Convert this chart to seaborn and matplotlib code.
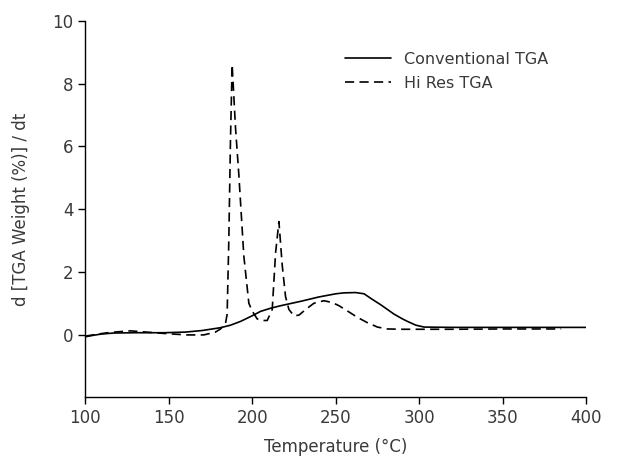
import numpy as np
import pandas as pd
import matplotlib
matplotlib.use("Agg")
import matplotlib.pyplot as plt
import seaborn as sns

# Conventional TGA (solid)
conv_temp = [100, 105, 110, 117, 130, 147, 160, 170, 181, 187, 193, 200, 205, 211,
             217, 229, 240, 250, 255, 262, 267, 272, 277, 285, 290, 293, 298, 303,
             320, 350, 400]
conv_rate = [-0.07, -0.02, 0.02, 0.05, 0.06, 0.06, 0.08, 0.13, 0.22, 0.30, 0.42, 0.60,
             0.74, 0.84, 0.92, 1.06, 1.20, 1.30, 1.33, 1.34, 1.30, 1.12, 0.95, 0.65,
             0.50, 0.42, 0.30, 0.24, 0.23, 0.23, 0.23]

# Hi Res TGA (dashed)
hires_temp = [100, 108, 115, 127, 139, 149, 161, 171, 178, 181, 184, 185, 186, 187,
              188, 189, 190, 192, 195, 198, 200, 203, 206, 209, 212, 214, 216, 218,
              220, 222, 225, 228, 232, 237, 243, 248, 252, 258, 263, 269, 275, 281,
              290, 320, 350, 385]
hires_rate = [-0.05, 0.02, 0.07, 0.12, 0.07, 0.03, -0.01, -0.01, 0.08, 0.18, 0.35, 0.65,
              3.0, 6.2, 8.6, 7.6, 6.6, 5.1, 2.5, 1.0, 0.75, 0.50, 0.45, 0.45, 0.80,
              2.6, 3.6, 2.2, 1.2, 0.80, 0.60, 0.62, 0.80, 1.00, 1.08, 1.02, 0.92,
              0.72, 0.55, 0.38, 0.24, 0.18, 0.17, 0.17, 0.18, 0.18]

df = pd.concat([
    pd.DataFrame({"temp": conv_temp, "rate": conv_rate, "series": "Conventional TGA"}),
    pd.DataFrame({"temp": hires_temp, "rate": hires_rate, "series": "Hi Res TGA"}),
])

sns.set_style("ticks")
plt.rcParams["font.family"] = ["DejaVu Sans"]
text_col = "#3a3a3a"

fig = plt.figure(figsize=(6.31, 4.61), dpi=100)
ax = fig.add_axes([0.135, 0.138, 0.794, 0.817])

sns.lineplot(data=df, x="temp", y="rate", style="series", color="black",
             dashes={"Conventional TGA": "", "Hi Res TGA": (5.5, 3.2)},
             linewidth=1.2, sort=False, estimator=None, ax=ax)

ax.set_xlim(100, 400)
ax.set_ylim(-2, 10)
ax.set_xticks([100, 150, 200, 250, 300, 350, 400])
ax.set_yticks([0, 2, 4, 6, 8, 10])
ax.tick_params(axis="both", labelsize=12, colors="black", labelcolor=text_col,
               direction="out", length=5, width=1)
ax.set_xlabel("Temperature (°C)", fontsize=12, color=text_col, labelpad=8)
ax.set_ylabel("d [TGA Weight (%)] / dt", fontsize=12, color=text_col, labelpad=16)
sns.despine(ax=ax)
for s in ["left", "bottom"]:
    ax.spines[s].set_color("black")
    ax.spines[s].set_linewidth(1)

leg = ax.legend(loc="upper left", bbox_to_anchor=(0.49, 0.955), frameon=False,
                fontsize=11.5, handlelength=2.9, labelspacing=0.55, title=None)
for t in leg.get_texts():
    t.set_color(text_col)

fig.savefig("out.png", dpi=100)
